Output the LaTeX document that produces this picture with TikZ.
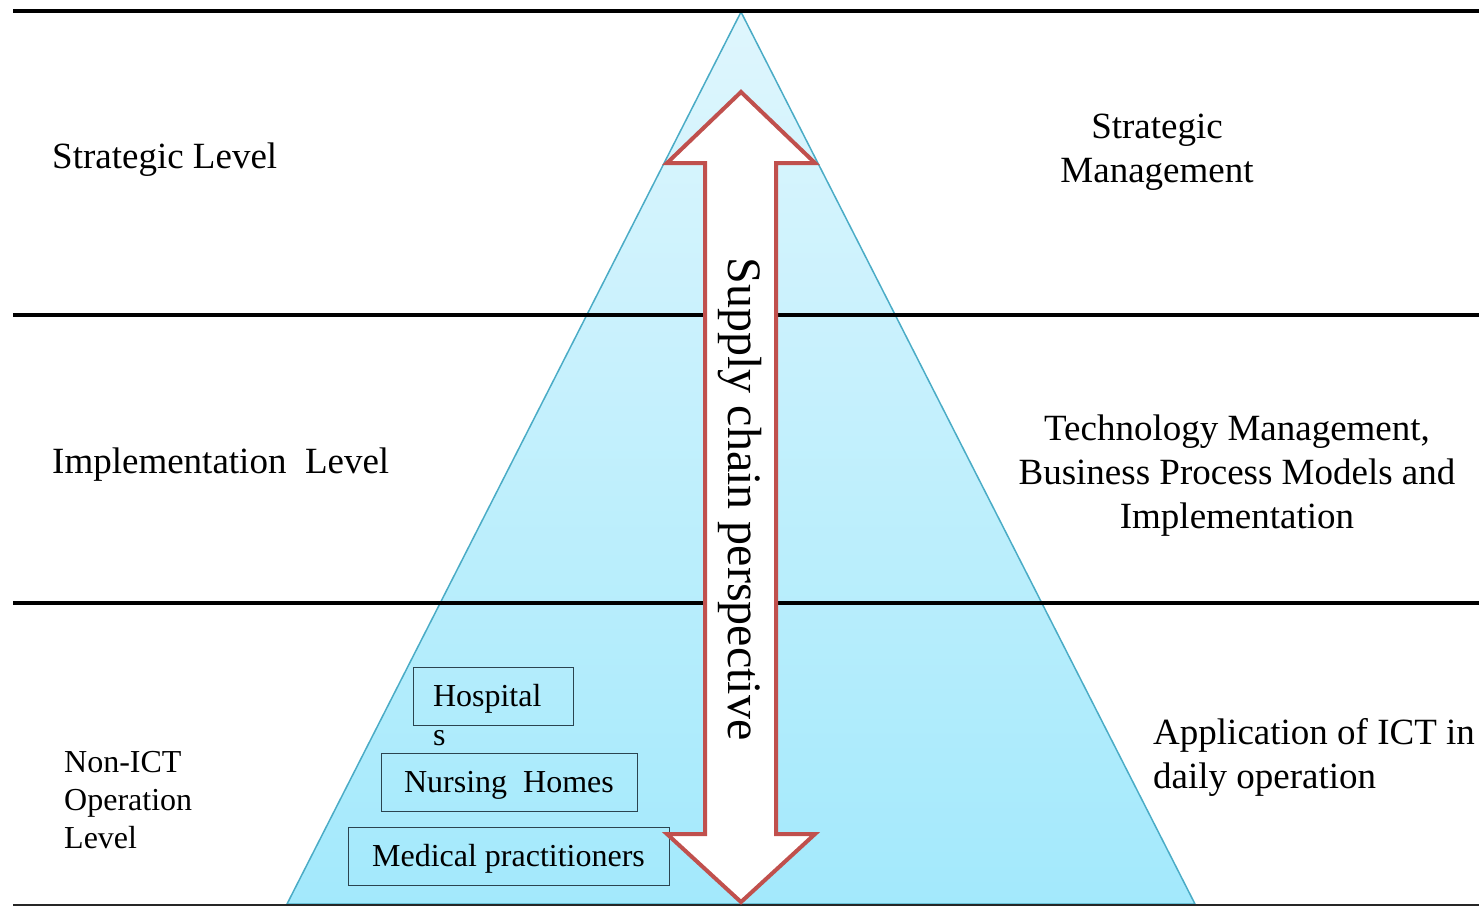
\documentclass[tikz,border=0pt]{standalone}
\usepackage{fontspec}
\setmainfont{Liberation Serif}
\usetikzlibrary{positioning}

\definecolor{pyrline}{HTML}{4BACC6}
\definecolor{pyrtop}{HTML}{DFF6FD}
\definecolor{pyrbot}{HTML}{A3E9FC}
\definecolor{arrowred}{HTML}{C0504D}
\definecolor{boxline}{HTML}{2B4450}

\begin{document}
\begin{tikzpicture}[x=1pt, y=-1pt,
  level/.style={anchor=base west, inner sep=0pt, font=\fontsize{37}{44}\selectfont},
  view/.style={anchor=base, inner sep=0pt, align=center, font=\fontsize{37}{44}\selectfont},
  unit/.style={draw=boxline, line width=1pt, minimum height=58pt, text height=21pt, text depth=0pt, font=\fontsize{32}{38}\selectfont},
  rule/.style={line width=4.5pt}]
  \useasboundingbox (0,0) rectangle (1479,906);
  \coordinate (apex) at (741,12);
  \coordinate (baseL) at (287,904);
  \coordinate (baseR) at (1195,904);
  \shade[top color=pyrtop, bottom color=pyrbot] (apex) -- (baseL) -- (baseR) -- cycle;
  \draw[pyrline, line width=1.5pt] (apex) -- (baseL) -- (baseR) -- cycle;
  \foreach \y in {11,315,603}
    \draw[rule] (13,\y) -- (1479,\y);
  \draw[line width=2pt, black!85] (13,905) -- (1479,905);

  \node[unit, minimum width=160pt, text width=120pt, inner xsep=20pt, align=left] (hospbox) at (493,696) {Hospital};
  \node[anchor=base west, inner sep=0pt, font=\fontsize{32}{38}\selectfont] (hosptail) at (433,745) {s};
  \node[unit, minimum width=256pt] (nursing) at (509,782) {Nursing\ \ Homes};
  \node[unit, minimum width=321pt] (medical) at (508.5,856) {Medical practitioners};

  \draw[arrowred, fill=white, line width=4pt, line join=miter]
    (741,92) -- (815,163) -- (776,163) -- (776,834) -- (815,834) -- (741,902)
    -- (667,834) -- (705,834) -- (705,163) -- (667,163) -- cycle;
  \node[rotate=-90, inner sep=0pt, font=\fontsize{48}{48}\selectfont] (supply) at (740,499) {Supply chain perspective};

  \node[level] (strat) at (52,168) {Strategic Level};
  \node[level] (impl) at (52,473) {Implementation\ \ Level};
  \node[level, align=left, font=\fontsize{32}{38}\selectfont] (nonict) at (64,848) {Non-ICT\\Operation\\Level};
  \node[view] (stratman) at (1157,182) {Strategic\\Management};
  \node[view] (techman) at (1237,528) {Technology Management,\\Business Process Models and\\Implementation};
  \node[level, align=left] (ictapp) at (1153,788) {Application of ICT in\\daily operation};
\end{tikzpicture}
\end{document}
